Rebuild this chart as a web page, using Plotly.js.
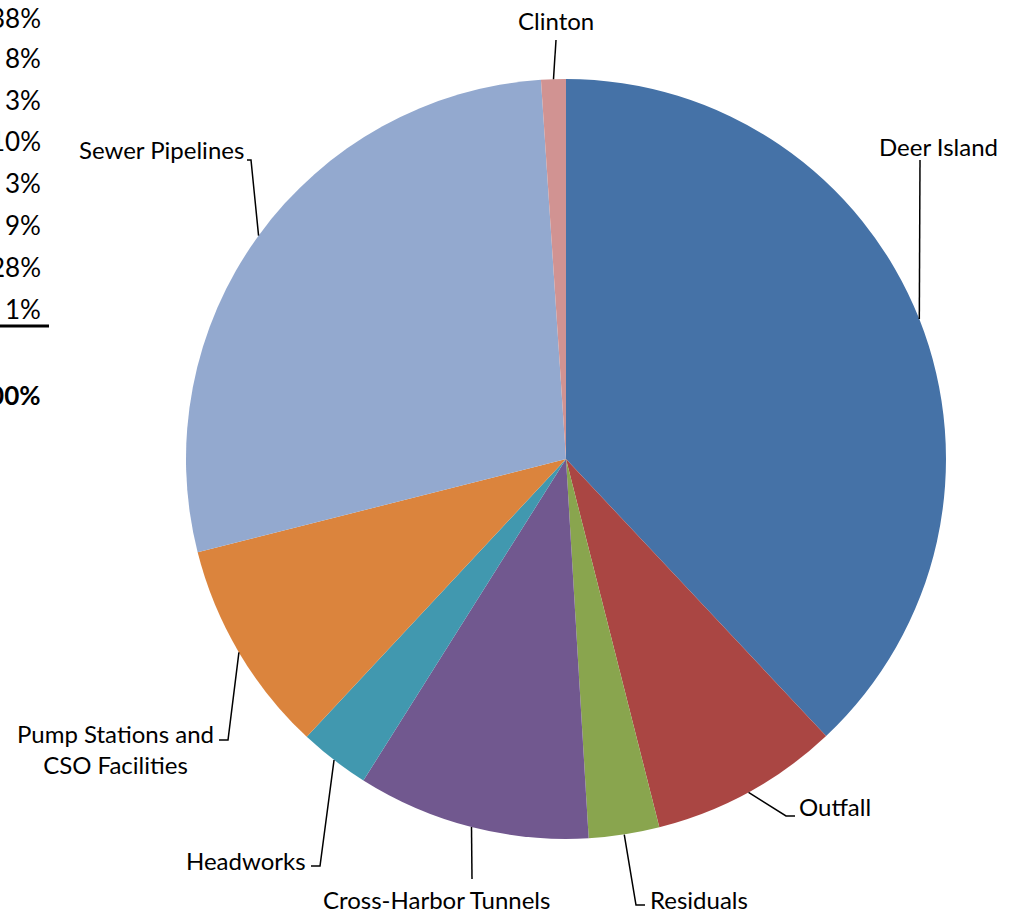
<!DOCTYPE html>
<html>
<head>
<meta charset="utf-8">
<script src="https://cdn.plot.ly/plotly-3.0.1.min.js"></script>
<style>html,body{margin:0;padding:0;background:#fff;}#chart{width:1013px;height:913px;}</style>
</head>
<body>
<div id="chart"></div>
<script>
// ---- data ----
const categories = ['Deer Island', 'Outfall', 'Residuals', 'Cross-Harbor Tunnels', 'Headworks', 'Pump Stations and<br>CSO Facilities', 'Sewer Pipelines', 'Clinton'];
const shareValues = [38.0, 8.05, 3.0, 9.9, 3.0, 9.1, 27.9, 1.05];
const tableLabels = ['38%', '8%', '3%', '10%', '3%', '9%', '28%', '1%'];
const totalLabel = '100%';
const sliceColors = ['#4572A7', '#AA4643', '#89A54E', '#71588F', '#4198AF', '#DB843D', '#93A9CF', '#D19392'];

// ---- layout geometry (pixels) ----
const W = 1013, H = 913;
const CX = 566, CY = 459, R = 380;
const FONT = 'Lato, Carlito, "Open Sans", sans-serif';
const labelLayout = [
  {x: 877, y: 147, xa: 'left', elbow: [[920, 160]]},
  {x: 797, y: 806, xa: 'left', elbow: [[786, 816], [795, 816]]},
  {x: 648, y: 899, xa: 'left', elbow: [[636, 905], [645, 905]]},
  {x: 436, y: 899, xa: 'center', elbow: [[472, 879]]},
  {x: 308, y: 860, xa: 'right', elbow: [[320, 866], [311, 866]]},
  {x: 115, y: 749, xa: 'center', elbow: [[228, 740], [219, 740]]},
  {x: 246, y: 150, xa: 'right', elbow: [[251, 160], [247, 160]]},
  {x: 556, y: 20, xa: 'center', elbow: [[556, 40]]}
];
const tableRowsY = [18, 58, 100, 141, 183, 225, 267, 309];

const px = x => x / W;
const py = y => 1 - y / H;

const total = shareValues.reduce((a, b) => a + b, 0);
let cum = 0;
const shapes = [];
const annotations = [];
shareValues.forEach((v, i) => {
  const mid = (cum + v / 2) / total * 2 * Math.PI;
  cum += v;
  const sx = CX + R * Math.sin(mid);
  const sy = CY - R * Math.cos(mid);
  const L = labelLayout[i];
  let path = `M ${px(sx)} ${py(sy)}`;
  L.elbow.forEach(p => { path += ` L ${px(p[0])} ${py(p[1])}`; });
  shapes.push({type: 'path', xref: 'paper', yref: 'paper', path: path, line: {color: '#000', width: 1.5}});
  annotations.push({
    xref: 'paper', yref: 'paper', x: px(L.x), y: py(L.y), xanchor: L.xa, yanchor: 'middle',
    text: categories[i], showarrow: false, align: 'center',
    font: {family: FONT, size: 24, color: '#000'}
  });
  annotations.push({
    xref: 'paper', yref: 'paper', x: px(43), y: py(tableRowsY[i]), xanchor: 'right', yanchor: 'middle',
    text: tableLabels[i], showarrow: false,
    font: {family: FONT, size: 26, color: '#000'}
  });
});
annotations.push({
  xref: 'paper', yref: 'paper', x: px(43), y: py(395), xanchor: 'right', yanchor: 'middle',
  text: '<b>' + totalLabel + '</b>', showarrow: false,
  font: {family: FONT, size: 26, color: '#000'}
});
shapes.push({type: 'line', xref: 'paper', yref: 'paper', x0: px(0), x1: px(49), y0: py(326), y1: py(326), line: {color: '#000', width: 3}});

const trace = {
  type: 'pie',
  labels: categories,
  values: shareValues,
  sort: false,
  direction: 'clockwise',
  rotation: 0,
  textinfo: 'none',
  hoverinfo: 'label+percent',
  marker: {colors: sliceColors, line: {width: 0}},
  domain: {x: [px(CX - R), px(CX + R)], y: [py(CY + R), py(CY - R)]},
  showlegend: false
};

const layout = {
  width: W, height: H,
  margin: {l: 0, r: 0, t: 0, b: 0},
  paper_bgcolor: '#fff',
  showlegend: false,
  shapes: shapes,
  annotations: annotations
};

Plotly.newPlot('chart', [trace], layout, {displayModeBar: false, staticPlot: true});
</script>
</body>
</html>
